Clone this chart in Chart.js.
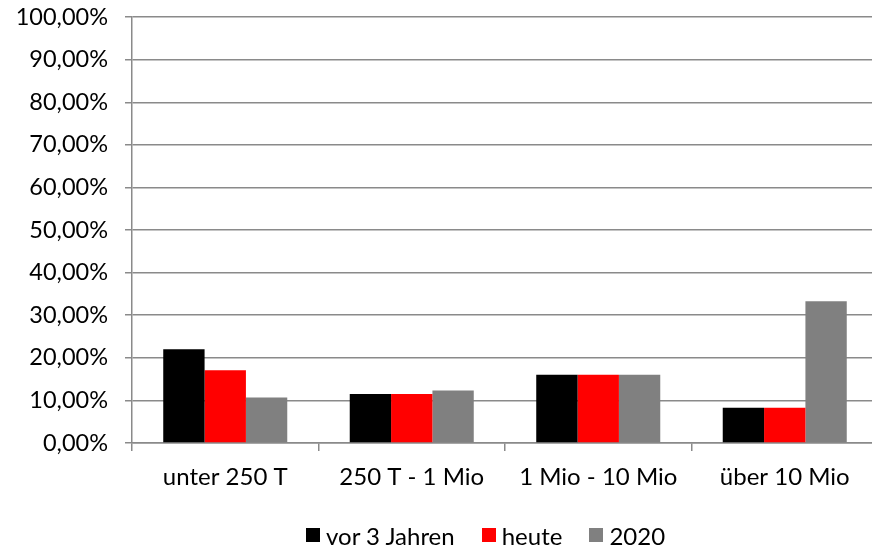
<!DOCTYPE html>
<html>
<head>
<meta charset="utf-8">
<script src="https://cdn.jsdelivr.net/npm/chart.js@4/dist/chart.umd.min.js"></script>
<style>
  html, body { margin: 0; padding: 0; background: #fff; overflow: hidden; }
  #wrap { position: relative; width: 872px; height: 546px; overflow: hidden; }
  #c { position: absolute; left: 0; top: -14px; }
  #legend {
    position: absolute; left: 306px; top: 520px; height: 30px;
    display: flex; align-items: center;
    font-family: Lato, "Open Sans", sans-serif; font-size: 24px; color: #000;
    white-space: nowrap;
  }
  #legend .item { display: flex; align-items: center; margin-right: 27px; }
  #legend .box { width: 14px; height: 14px; margin-right: 6px; }
</style>
</head>
<body>
<div id="wrap">
  <canvas id="c" width="878" height="560"></canvas>
  <div id="legend"></div>
</div>
<script>
// Revenue size classes and the share of each, in percent
const categories = ['unter 250 T', '250 T - 1 Mio', '1 Mio - 10 Mio', 'über 10 Mio'];
const seriesNames = ['vor 3 Jahren', 'heute', '2020'];
const vor3Jahren = [22.0, 11.5, 16.0, 8.3];
const heute = [17.1, 11.5, 16.0, 8.3];
const jahr2020 = [10.7, 12.3, 16.0, 33.3];
const seriesColors = ['#000000', '#ff0000', '#808080'];
const yTicks = [0, 10, 20, 30, 40, 50, 60, 70, 80, 90, 100];

const fontFamily = 'Lato, "Open Sans", sans-serif';
const gridColor = '#8a8a8a';

const data = {
  labels: categories,
  datasets: [vor3Jahren, heute, jahr2020].map((vals, i) => ({
    label: seriesNames[i],
    data: vals,
    backgroundColor: seriesColors[i],
    borderWidth: 0,
    categoryPercentage: 0.665,
    barPercentage: 1.0
  }))
};

// Legend below the plot, built from the series names and colours
const legendEl = document.getElementById('legend');
seriesNames.forEach((name, i) => {
  const item = document.createElement('span');
  item.className = 'item';
  const box = document.createElement('span');
  box.className = 'box';
  box.style.background = seriesColors[i];
  const txt = document.createElement('span');
  txt.textContent = name;
  item.appendChild(box);
  item.appendChild(txt);
  legendEl.appendChild(item);
});

new Chart(document.getElementById('c'), {
  type: 'bar',
  data,
  options: {
    responsive: false,
    animation: false,
    layout: { padding: { top: 0, left: 0, right: 0, bottom: 0 } },
    plugins: {
      tooltip: { enabled: false },
      legend: { display: false }
    },
    scales: {
      x: {
        offset: true,
        grid: {
          offset: true,
          drawOnChartArea: false,
          drawTicks: true,
          tickLength: 8,
          color: gridColor,
          lineWidth: 1.5
        },
        border: { color: gridColor, width: 1.5 },
        ticks: {
          color: '#000',
          font: { family: fontFamily, size: 24 },
          padding: 12,
          maxRotation: 0
        },
        afterFit: (s) => { s.height = 103; }
      },
      y: {
        min: 0,
        max: 100,
        afterBuildTicks: (s) => { s.ticks = yTicks.map(v => ({ value: v })); },
        grid: {
          color: gridColor,
          lineWidth: 1.5,
          drawTicks: true,
          tickLength: 7
        },
        border: { color: gridColor, width: 1.5 },
        ticks: {
          color: '#000',
          font: { family: fontFamily, size: 23.5 },
          padding: 17,
          callback: (v) => v.toFixed(2).replace('.', ',') + '%'
        },
        afterFit: (s) => { s.width = 132; }
      }
    }
  }
});
</script>
</body>
</html>
